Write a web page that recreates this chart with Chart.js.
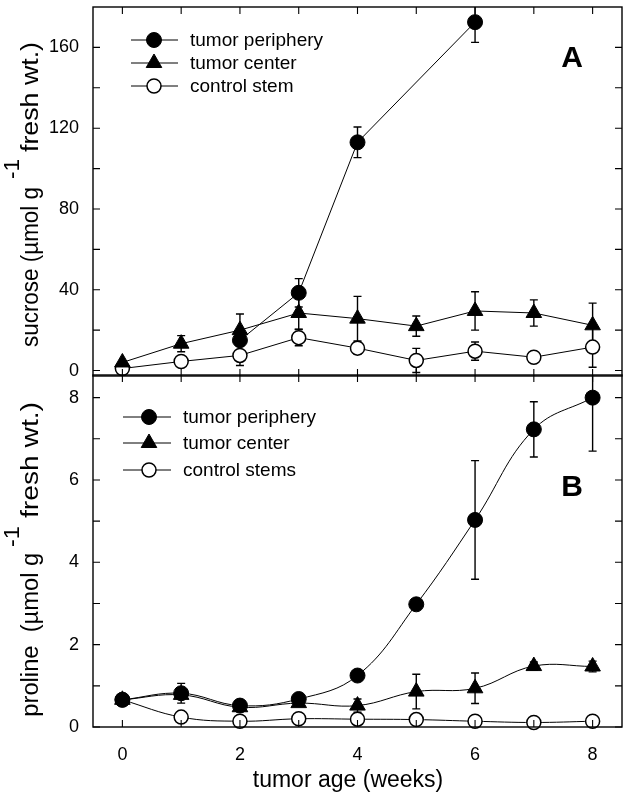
<!DOCTYPE html>
<html><head><meta charset="utf-8">
<script src="https://cdn.jsdelivr.net/npm/chart.js@4.4.1/dist/chart.umd.min.js"></script>
<style>
html,body{margin:0;padding:0;background:#fff;width:624px;height:795px;overflow:hidden;}
#wrapA{position:absolute;left:0;top:0;width:624px;height:380px;}
#wrapB{position:absolute;left:0;top:370px;width:624px;height:425px;}
</style></head><body>
<div id="wrapA"><canvas id="cA"></canvas></div>
<div id="wrapB"><canvas id="cB"></canvas></div>
<script>
// ---- data ----
const weeks = [0, 1, 2, 3, 4, 5, 6, 7, 8];
const xTickLabels = ['0', '', '2', '', '4', '', '6', '', '8'];

// Panel A: sucrose
const sucroseTicks = [0, 20, 40, 60, 80, 100, 120, 140, 160];
const sucroseTickLabels = ['0', '', '40', '', '80', '', '120', '', '160'];
const sucPeriphery = [null, null, 15, 38.5, 113, null, 172.5, null, null];
const sucPeripheryErr = [null, null, 2, 7, 7.6, null, 10, null, null];
const sucCenter = [4, 13.3, 20, 28.5, 25.7, 22, 29.5, 28.5, 22.4];
const sucCenterErr = [0, 4, 8, 8, 11, 5, 9.5, 6.5, 11];
const sucControl = [1, 4.5, 7.5, 16.3, 11.1, 5, 9.6, 6.6, 11.6];
const sucControlErr = [0, 2, 5, 4, 3, 6, 4.5, 1, 10];
const legendA = ['tumor periphery', 'tumor center', 'control stem'];

// Panel B: proline
const prolineTicks = [0, 1, 2, 3, 4, 5, 6, 7, 8];
const prolineTickLabels = ['0', '', '2', '', '4', '', '6', '', '8'];
const proPeriphery = [0.66, 0.82, 0.52, 0.68, 1.25, 2.98, 5.03, 7.23, 8.0];
const proPeripheryErr = [0.05, 0.24, 0.08, 0.05, 0.05, 0.05, 1.44, 0.67, 1.3];
const proCenter = [0.66, 0.78, 0.48, 0.58, 0.52, 0.86, 0.94, 1.48, 1.47];
const proCenterErr = [0.05, 0.1, 0.05, 0.05, 0.16, 0.42, 0.37, 0.1, 0.13];
const proControl = [0.66, 0.24, 0.14, 0.2, 0.19, 0.18, 0.14, 0.11, 0.14];
const proControlErr = [0.03, 0.03, 0.03, 0.03, 0.03, 0.03, 0.03, 0.03, 0.03];
const legendB = ['tumor periphery', 'tumor center', 'control stems'];

const FONT = "'Liberation Sans', Arial, sans-serif";

function pts(vals) {
  const out = [];
  weeks.forEach((w, i) => { if (vals[i] !== null) out.push({x: w, y: vals[i]}); });
  return out;
}
function errs(vals, e) {
  const out = [];
  weeks.forEach((w, i) => { if (vals[i] !== null) out.push(e[i]); });
  return out;
}

const styles = [
  {pointStyle: 'circle', pointRadius: 7.5, bg: '#000', bw: 1},
  {pointStyle: 'triangle', pointRadius: 9, bg: '#000', bw: 1},
  {pointStyle: 'circle', pointRadius: 7, bg: '#fff', bw: 1.5}
];

function mkDataset(label, vals, e, idx, tension) {
  const s = styles[idx];
  return {
    label: label, data: pts(vals), errors: errs(vals, e),
    borderColor: '#000', borderWidth: 1, tension: tension,
    pointStyle: s.pointStyle, pointRadius: s.pointRadius,
    pointBackgroundColor: s.bg, pointBorderColor: '#000', pointBorderWidth: s.bw,
    pointHoverRadius: s.pointRadius, clip: 10
  };
}

function drawMarker(ctx, idx, x, y) {
  const s = styles[idx];
  ctx.save();
  ctx.fillStyle = s.bg; ctx.strokeStyle = '#000'; ctx.lineWidth = s.bw;
  ctx.beginPath();
  if (s.pointStyle === 'circle') {
    ctx.arc(x, y, s.pointRadius, 0, Math.PI * 2);
  } else {
    const r = s.pointRadius;
    ctx.moveTo(x, y - r);
    ctx.lineTo(x + r * Math.sin(2 * Math.PI / 3), y - r * Math.cos(2 * Math.PI / 3));
    ctx.lineTo(x + r * Math.sin(4 * Math.PI / 3), y - r * Math.cos(4 * Math.PI / 3));
    ctx.closePath();
  }
  ctx.fill(); ctx.stroke();
  ctx.restore();
}

function drawRotated(ctx, text, font, bx, startY, length) {
  ctx.save();
  ctx.font = font; ctx.fillStyle = '#000';
  ctx.textAlign = 'left'; ctx.textBaseline = 'alphabetic';
  ctx.translate(bx, startY);
  ctx.rotate(-Math.PI / 2);
  const w = ctx.measureText(text).width;
  if (length) ctx.scale(length / w, 1);
  ctx.fillText(text, 0, 0);
  ctx.restore();
}

function panelPlugin(cfg) {
  return {
    id: 'panel' + cfg.letter,
    beforeDatasetsDraw(chart) {
      const ctx = chart.ctx, xs = chart.scales.x, ys = chart.scales.y, ca = chart.chartArea;
      ctx.save();
      ctx.strokeStyle = '#000'; ctx.lineWidth = 1.4;
      chart.data.datasets.forEach(ds => {
        ds.data.forEach((p, i) => {
          const e = ds.errors[i];
          if (!e) return;
          const px = xs.getPixelForValue(p.x);
          let t = ys.getPixelForValue(p.y + e), b = ys.getPixelForValue(p.y - e);
          const tc = Math.max(t, ca.top), bc = Math.min(b, ca.bottom);
          ctx.beginPath(); ctx.moveTo(px, tc); ctx.lineTo(px, bc);
          if (t >= ca.top) { ctx.moveTo(px - 4, t); ctx.lineTo(px + 4, t); }
          if (b <= ca.bottom) { ctx.moveTo(px - 4, b); ctx.lineTo(px + 4, b); }
          ctx.stroke();
        });
      });
      ctx.restore();
    },
    afterDraw(chart) {
      const ctx = chart.ctx, xs = chart.scales.x, ys = chart.scales.y, ca = chart.chartArea;
      ctx.save();
      ctx.strokeStyle = '#000';
      // frame
      ctx.lineWidth = 1.4;
      ctx.strokeRect(ca.left, ca.top, ca.right - ca.left, ca.bottom - ca.top);
      // inward ticks
      ctx.lineWidth = 1.1;
      ctx.beginPath();
      ys.ticks.forEach(t => {
        const py = ys.getPixelForValue(t.value);
        ctx.moveTo(ca.left, py); ctx.lineTo(ca.left + 7, py);
        ctx.moveTo(ca.right, py); ctx.lineTo(ca.right - 7, py);
      });
      xs.ticks.forEach(t => {
        const px = xs.getPixelForValue(t.value);
        ctx.moveTo(px, ca.bottom); ctx.lineTo(px, ca.bottom - 7);
        ctx.moveTo(px, ca.top); ctx.lineTo(px, ca.top + 7);
      });
      ctx.stroke();
      // legend
      const L = cfg.legend;
      chart.data.datasets.forEach((ds, i) => {
        const y = L.rows[i];
        ctx.lineWidth = 1;
        ctx.beginPath(); ctx.moveTo(L.x1, y); ctx.lineTo(L.x2, y); ctx.stroke();
        drawMarker(ctx, i, L.mx, y);
        ctx.fillStyle = '#000';
        ctx.font = '19px ' + FONT;
        ctx.textAlign = 'left'; ctx.textBaseline = 'middle';
        ctx.fillText(ds.label, L.tx, y + 1);
      });
      // panel letter
      ctx.font = 'bold 30px ' + FONT;
      ctx.textAlign = 'center'; ctx.textBaseline = 'middle';
      ctx.fillStyle = '#000';
      ctx.fillText(cfg.letter, cfg.letterX, cfg.letterY);
      // y title
      cfg.ytitle.forEach(p => drawRotated(ctx, p.text, p.font, p.bx, p.sy, p.len));
      // x title
      if (cfg.xtitle) {
        ctx.font = '23px ' + FONT;
        ctx.textAlign = 'center'; ctx.textBaseline = 'middle';
        ctx.fillText(cfg.xtitle.text, cfg.xtitle.x, cfg.xtitle.y);
      }
      ctx.restore();
    }
  };
}

function mkChart(id, datasets, yMin, yMax, yTicks, yLabels, showX, xAxisH, pad, plugin) {
  return new Chart(document.getElementById(id), {
    type: 'line',
    data: {datasets: datasets},
    options: {
      responsive: true, maintainAspectRatio: false, animation: false,
      layout: {padding: pad, autoPadding: false},
      plugins: {legend: {display: false}, tooltip: {enabled: false}},
      scales: {
        x: {
          type: 'linear', min: -0.5, max: 8.5,
          afterBuildTicks: s => { s.ticks = weeks.map(v => ({value: v})); },
          afterFit: s => { s.height = xAxisH; s.paddingLeft = 0; s.paddingRight = 0; s.paddingTop = 0; s.paddingBottom = 0; },
          grid: {display: false, drawTicks: false}, border: {display: false},
          ticks: {display: showX, padding: 17, color: '#000', font: {family: FONT, size: 18},
                  autoSkip: false, maxRotation: 0, callback: (v, i) => xTickLabels[i]}
        },
        y: {
          min: yMin, max: yMax,
          afterBuildTicks: s => { s.ticks = yTicks.map(v => ({value: v})); },
          afterFit: s => { s.width = 93; s.paddingTop = 0; s.paddingBottom = 0; s.paddingLeft = 0; s.paddingRight = 0; },
          grid: {display: false, drawTicks: false}, border: {display: false},
          ticks: {padding: 14, color: '#000', font: {family: FONT, size: 18},
                  autoSkip: false, callback: (v, i) => yLabels[i]}
        }
      }
    },
    plugins: [plugin]
  });
}

const dsA = [
  mkDataset(legendA[0], sucPeriphery, sucPeripheryErr, 0, 0),
  mkDataset(legendA[1], sucCenter, sucCenterErr, 1, 0),
  mkDataset(legendA[2], sucControl, sucControlErr, 2, 0)
];
const dsB = [
  mkDataset(legendB[0], proPeriphery, proPeripheryErr, 0, 0.4),
  mkDataset(legendB[1], proCenter, proCenterErr, 1, 0.4),
  mkDataset(legendB[2], proControl, proControlErr, 2, 0.4)
];

const pluginA = panelPlugin({
  letter: 'A', letterX: 572, letterY: 59,
  legend: {x1: 131, x2: 178, mx: 154, tx: 190, rows: [40, 63, 86]},
  ytitle: [
    {text: 'sucrose (µmol g', font: '23px ' + FONT, bx: 37.5, sy: 347, len: 160},
    {text: '-1', font: '22px ' + FONT, bx: 19, sy: 179, len: 20},
    {text: 'fresh wt.)', font: '23px ' + FONT, bx: 38, sy: 152, len: 110}
  ]
});
const pluginB = panelPlugin({
  letter: 'B', letterX: 572, letterY: 118,
  legend: {x1: 123, x2: 171, mx: 149, tx: 183, rows: [47, 73, 100]},
  ytitle: [
    {text: 'proline  (µmol g', font: '23px ' + FONT, bx: 38, sy: 346.7, len: 164},
    {text: '-1', font: '22px ' + FONT, bx: 19, sy: 177, len: 21},
    {text: 'fresh wt.)', font: '23px ' + FONT, bx: 38, sy: 148, len: 116}
  ],
  xtitle: {text: 'tumor age (weeks)', x: 348, y: 411}
});

mkChart('cA', dsA, -2.7, 180, sucroseTicks, sucroseTickLabels, false, 4, {top: 7, right: 2, left: 0, bottom: 0}, pluginA);
mkChart('cB', dsB, 0, 8.55, prolineTicks, prolineTickLabels, true, 68, {top: 5, right: 2, left: 0, bottom: 0}, pluginB);
</script>
</body></html>
